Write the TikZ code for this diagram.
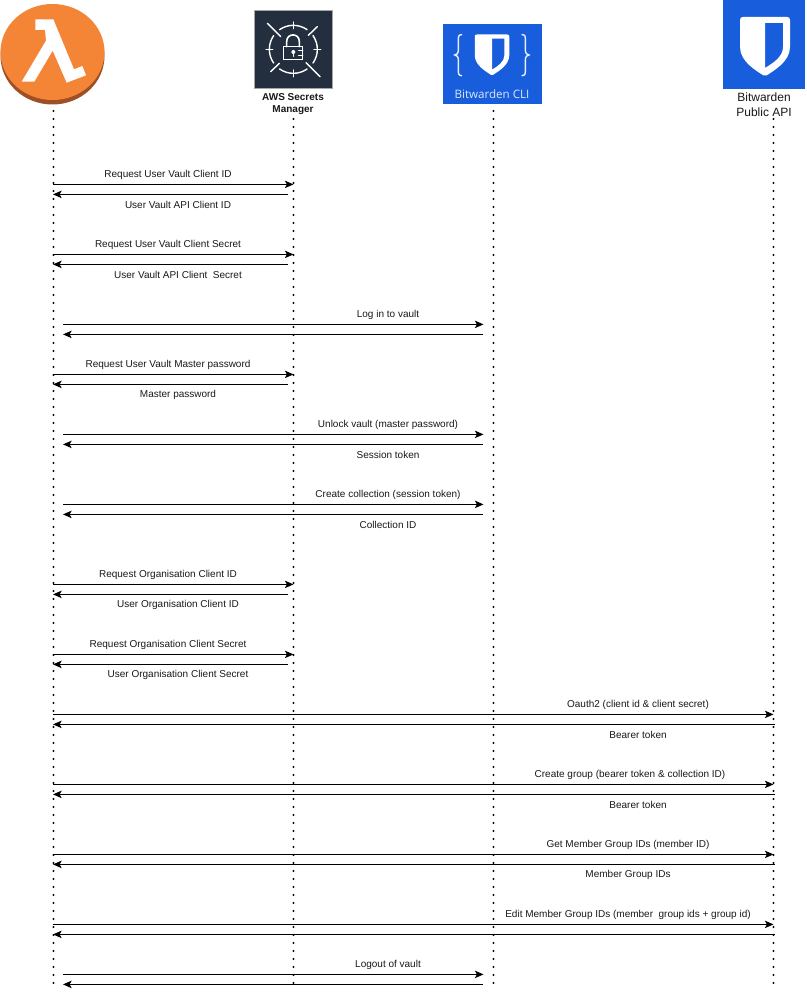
\documentclass[tikz,border=0pt]{standalone}
\usepackage{fontspec}
\setmainfont{Liberation Sans}
\newfontfamily\clifont{Open Sans}
\usetikzlibrary{arrows.meta}
\definecolor{bwblue}{HTML}{175DDC}
\definecolor{awsdark}{HTML}{232F3E}
\definecolor{lamorange}{HTML}{F58536}
\definecolor{lamdark}{HTML}{9D5025}
\tikzset{
  msgline/.style={line width=.75pt,-{Stealth[length=6.5pt,width=5.6pt,inset=1.6pt]}},
  msglabel/.style={font=\fontsize{7.5pt}{9pt}\selectfont,inner sep=0pt,text=black!90},
  lifeline/.style={line width=1.7pt,line cap=round,dash pattern=on 0pt off 6pt},
  headlabel/.style={inner sep=0pt,align=center,text=black!90},
  iconline/.style={draw=white,line width=1.05pt,line cap=round,fill=none},
  iconbox/.style={inner sep=0pt,outer sep=0pt}
}
% name, y, from x, to x, label x, label y, text
\newcommand{\seqmsg}[7]{%
  \coordinate (#1-a) at (#3,#2+.4);
  \coordinate (#1-b) at (#4,#2+.4);
  \draw[msgline] (#1-a) -- (#1-b);
  \node[msglabel] (#1-t) at (#5,#6+1) {#7};
}
\newcommand{\seqbare}[4]{%
  \coordinate (#1-a) at (#3,#2+.4);
  \coordinate (#1-b) at (#4,#2+.4);
  \draw[msgline] (#1-a) -- (#1-b);
}
\newcommand{\bwshield}[3]{%
  \begin{scope}[shift={(#1,#2)},scale=#3]
    \fill[white,even odd rule]
      (-25,3) .. controls (-25,1) and (-24,0) .. (-22,0) -- (22,0)
      .. controls (24,0) and (25,1) .. (25,3) -- (25,30)
      .. controls (25,45) and (8,54) .. (1.5,58.5)
      .. controls (.5,59) and (-.5,59) .. (-1.5,58.5)
      .. controls (-8,54) and (-25,45) .. (-25,30) -- cycle
      (0,6) -- (18,6) -- (18,30) .. controls (18,40) and (8,46) .. (0,51) -- cycle;
  \end{scope}%
}
\begin{document}
\begin{tikzpicture}[x=.75pt,y=-.75pt]
\useasboundingbox (0,0) rectangle (806,994);
\fill[white] (0,0) rectangle (806,994);

% ---- Lambda icon
\node[iconbox,minimum width=78pt,minimum height=75pt] (lam) at (52.5,54) {};
\fill[lamdark] (52.5,56) ellipse [x radius=52,y radius=48.5];
\fill[lamorange] (52.5,52) ellipse [x radius=52,y radius=48];
\begin{scope}[x=.25pt,y=-.25pt]
  \fill[white] (106,58) -- (160,58) -- (222,208) -- (247,198) -- (258,226) -- (200,248)
    -- (158,152) -- (103,245) -- (65,245) -- (138,122) -- (135,90) -- (106,90) -- cycle;
\end{scope}

% ---- Secrets Manager icon
\node[iconbox,draw=black!35,line width=.5pt,fill=awsdark,minimum width=59pt,minimum height=58.5pt] (sm) at (293.3,49.3) {};
\begin{scope}[shift={(240,0)},x=.25pt,y=-.25pt]
  \foreach \s/\e in {55/125,145/215,235/305,325/395}
    \draw[iconline] ({160+72*cos(\s)},{148-72*sin(\s)}) arc [start angle=\s,end angle=\e,radius=72*.25pt];
  \foreach \a in {0,90,180,270}
    \draw[iconline] ({160+62*cos(\a)},{148-62*sin(\a)}) -- ({160+82*cos(\a)},{148-82*sin(\a)});
  \draw[iconline] (82,70) -- (122,110);
  \draw[iconline] (232,80) -- (205,106);
  \draw[iconline] (92,215) -- (118,190);
  \draw[iconline] (198,188) -- (240,230);
  \draw[iconline,line width=1.2pt] (130,140) rectangle (188,178);
  \draw[iconline,line width=1.2pt] (140,140) -- (140,125) .. controls (140,98) and (178,98) .. (178,125) -- (178,140);
  \fill[white] (160,156) circle [radius=6*.25pt];
  \draw[iconline] (160,160) -- (160,169);
  \draw[iconline] (176,151) -- (188,151);
  \draw[iconline] (176,166) -- (188,166);
\end{scope}
\node[headlabel,font=\bfseries\fontsize{7.5pt}{9pt}\selectfont] (smt) at (293,104) {AWS Secrets\\Manager};

% ---- Bitwarden CLI icon
\node[iconbox,fill=bwblue,minimum width=74.2pt,minimum height=60pt] (cli) at (492.3,64) {};
\bwshield{492}{34.5}{.69}
\begin{scope}[shift={(430,10)},x=.25pt,y=-.25pt]
  \draw[iconline,draw=white!90!bwblue] (95,74) .. controls (85,74) and (85,80) .. (85,90) -- (85,120)
    .. controls (85,130) and (80,135) .. (74,135) .. controls (80,135) and (85,140) .. (85,150)
    -- (85,180) .. controls (85,190) and (85,197) .. (95,197);
  \draw[iconline,draw=white!90!bwblue] (276,74) .. controls (286,74) and (286,80) .. (286,90) -- (286,120)
    .. controls (286,130) and (291,135) .. (297,135) .. controls (291,135) and (286,140) .. (286,150)
    -- (286,180) .. controls (286,190) and (286,197) .. (276,197);
\end{scope}
\node[inner sep=0pt,text=white!85!bwblue,font=\clifont\fontsize{8.7pt}{10pt}\selectfont] (clit) at (492,94) {Bitwarden CLI};

% ---- Bitwarden Public API icon
\node[iconbox,fill=bwblue,minimum width=61.5pt,minimum height=66.8pt] (api) at (764,44.5) {};
\bwshield{765}{17}{1}
\node[headlabel,font=\fontsize{9pt}{11.25pt}\selectfont] (apit) at (764,104.5) {Bitwarden\\Public API};

% ---- Lifelines
\coordinate (lam-top) at (53.5,111);  \coordinate (lam-end) at (53.5,985);
\coordinate (sm-top)  at (293.5,119); \coordinate (sm-end)  at (293.5,985);
\coordinate (cli-top) at (493.5,111); \coordinate (cli-end) at (493.5,985);
\coordinate (api-top) at (773.5,119); \coordinate (api-end) at (773.5,985);
\draw[lifeline] (lam-top) -- (lam-end);
\draw[lifeline] (sm-top) -- (sm-end);
\draw[lifeline] (cli-top) -- (cli-end);
\draw[lifeline] (api-top) -- (api-end);

% ---- Messages
\seqmsg{m1}{184}{53}{293.5}{168}{174}{Request User Vault Client ID}
\seqmsg{m2}{194}{288}{53}{178}{204}{User Vault API Client ID}
\seqmsg{m3}{254}{53}{293.5}{168}{244}{Request User Vault Client Secret}
\seqmsg{m4}{264}{288}{53}{178}{274}{User Vault API Client~~Secret}
\seqmsg{m5}{324}{63}{483.5}{388}{314}{Log in to vault}
\seqbare{m6}{334}{483}{63}
\seqmsg{m7}{374}{53}{293.5}{168}{364}{Request User Vault Master password}
\seqmsg{m8}{384}{288}{53}{178}{394}{Master password}
\seqmsg{m9}{434}{63}{483.5}{388}{424}{Unlock vault (master password)}
\seqmsg{m10}{444}{483}{63}{388}{454}{Session token}
\seqmsg{m11}{504}{63}{483.5}{388}{494}{Create collection (session token)}
\seqmsg{m12}{514}{483}{63}{388}{524}{Collection ID}
\seqmsg{m13}{584}{53}{293.5}{168}{574}{Request Organisation Client ID}
\seqmsg{m14}{594}{288}{53}{178}{604}{User Organisation Client ID}
\seqmsg{m15}{654}{53}{293.5}{168}{644}{Request Organisation Client Secret}
\seqmsg{m16}{664}{288}{53}{178}{674}{User Organisation Client Secret}
\seqmsg{m17}{714}{53}{773.5}{638}{704}{Oauth2 (client id \& client secret)}
\seqmsg{m18}{724}{775}{53}{638}{734}{Bearer token}
\seqmsg{m19}{784}{53}{773.5}{630}{774}{Create group (bearer token \& collection ID)}
\seqmsg{m20}{794}{775}{53}{638}{804}{Bearer token}
\seqmsg{m21}{854}{53}{773.5}{628}{844}{Get Member Group IDs (member ID)}
\seqmsg{m22}{864}{775}{53}{628}{874}{Member Group IDs}
\seqmsg{m23}{924}{53}{773.5}{628}{914}{Edit Member Group IDs (member~~group ids + group id)}
\seqbare{m24}{934}{775}{53}
\seqmsg{m25}{974}{63}{483.5}{388}{964}{Logout of vault}
\seqbare{m26}{984}{483}{63}
\end{tikzpicture}
\end{document}
